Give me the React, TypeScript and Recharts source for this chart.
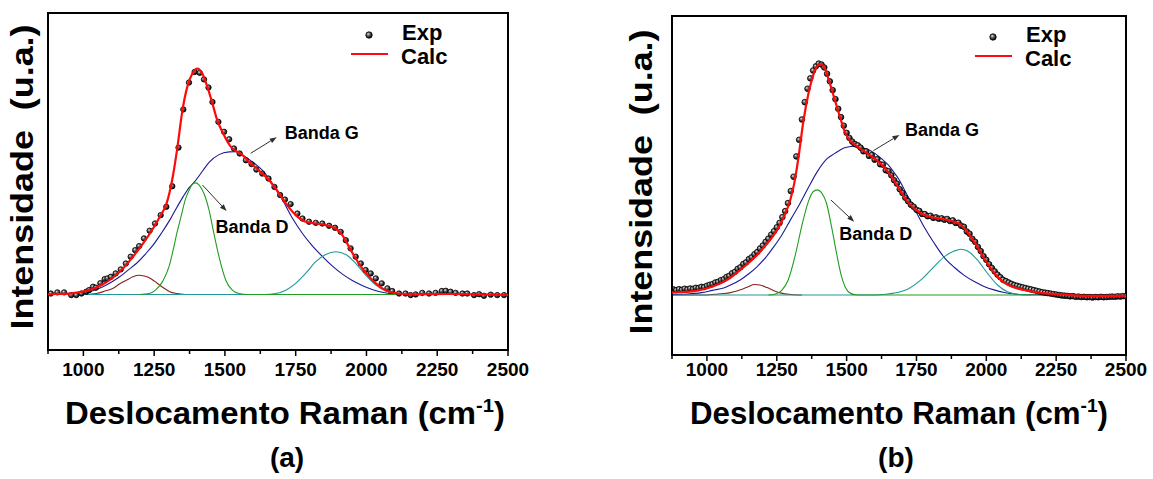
import React from "react";
import { ComposedChart, Line, Scatter, XAxis, YAxis, ReferenceLine, Legend } from "recharts";

const FONT = "'Liberation Sans', Arial, Helvetica, sans-serif";
const RED = "#ff0a0a";
const BLUE = "#1b1b96";
const GREEN = "#1f9e1f";
const TEAL = "#1f9999";
const BROWN = "#8c1f1f";
const ARROW = "#303030";

// Raman shift axis (cm-1): minor every 125, labels every 250
const xTicks = [875, 1000, 1125, 1250, 1375, 1500, 1625, 1750, 1875, 2000, 2125, 2250, 2375, 2500];

// ---------- panel (a) ----------
const aExpX = [885, 908, 932, 957, 975, 993, 1010, 1020, 1034, 1044, 1060, 1075, 1085, 1097, 1114, 1132, 1150, 1167, 1183, 1197,
  1214, 1234, 1253, 1273, 1293, 1314, 1336, 1353, 1373, 1393, 1411, 1426, 1442, 1456, 1477, 1497, 1515, 1532, 1552, 1574,
  1594, 1611, 1632, 1654, 1675, 1695, 1712, 1732, 1756, 1774, 1797, 1821, 1844, 1868, 1889, 1909, 1927, 1944, 1962, 1980,
  1997, 2015, 2033, 2054, 2074, 2091, 2115, 2138, 2156, 2174, 2197, 2221, 2244, 2266, 2280, 2297, 2315, 2339, 2356, 2380,
  2398, 2415, 2439, 2462, 2486];
const aExpY = [0.004, 0.009, 0.009, -0.003, -0.003, 0.004, 0.012, 0.019, 0.034, 0.03, 0.05, 0.068, 0.071, 0.078, 0.093, 0.111, 0.137, 0.167, 0.196, 0.214,
  0.248, 0.282, 0.314, 0.351, 0.388, 0.479, 0.65, 0.819, 0.938, 0.985, 0.981, 0.952, 0.916, 0.852, 0.764, 0.72, 0.687, 0.646, 0.624, 0.594,
  0.577, 0.553, 0.535, 0.513, 0.476, 0.44, 0.42, 0.4, 0.358, 0.336, 0.322, 0.317, 0.314, 0.304, 0.295, 0.277, 0.24, 0.204, 0.167, 0.137,
  0.108, 0.093, 0.071, 0.049, 0.027, 0.015, 0.004, 0.004, -0.003, 0, 0.007, 0.004, 0.007, 0.015, 0.016, 0.012, 0.007, 0.004, 0.004, -0.003,
  0.001, -0.006, -0.001, -0.003, -0.003];

const aCalcX = [875, 900, 950, 985, 1010, 1040, 1069, 1105, 1140, 1175, 1211, 1246, 1270, 1293, 1305, 1317, 1332, 1350, 1367, 1385,
  1403, 1420, 1438, 1456, 1473, 1491, 1509, 1526, 1544, 1562, 1585, 1609, 1632, 1656, 1679, 1715, 1750, 1785, 1821, 1856,
  1891, 1915, 1938, 1962, 1985, 2009, 2033, 2056, 2080, 2115, 2150, 2200, 2300, 2400, 2500];
const aCalcY = [0, 0.002, 0.004, 0.01, 0.016, 0.028, 0.045, 0.075, 0.115, 0.167, 0.226, 0.292, 0.344, 0.4, 0.455, 0.53, 0.65, 0.816, 0.919, 0.978,
  1.0, 0.978, 0.919, 0.845, 0.771, 0.72, 0.676, 0.646, 0.631, 0.617, 0.587, 0.562, 0.535, 0.506, 0.469, 0.403, 0.351, 0.322, 0.314, 0.307,
  0.292, 0.263, 0.211, 0.159, 0.115, 0.078, 0.049, 0.027, 0.012, 0.004, 0, 0.001, 0.002, 0, -0.002];

const aBlueX = [875, 950, 985, 1022, 1069, 1100, 1128, 1160, 1187, 1220, 1246, 1275, 1305, 1330, 1352, 1373, 1393, 1423, 1444, 1479,
  1515, 1538, 1562, 1597, 1632, 1668, 1691, 1703, 1738, 1774, 1809, 1847, 1880, 1915, 1950, 1985, 2020, 2056, 2100, 2150, 2500];
const aBlueY = [0, 0.001, 0.006, 0.012, 0.034, 0.055, 0.078, 0.11, 0.137, 0.18, 0.218, 0.27, 0.329, 0.385, 0.432, 0.472, 0.499, 0.55, 0.585, 0.619,
  0.631, 0.632, 0.617, 0.587, 0.55, 0.491, 0.447, 0.42, 0.338, 0.27, 0.215, 0.165, 0.125, 0.09, 0.062, 0.04, 0.022, 0.01, 0.002, 0, 0];

const aGreenX = [1200, 1232, 1255, 1281, 1303, 1317, 1330, 1346, 1360, 1373, 1385, 1397, 1409, 1426, 1444, 1461, 1479, 1503, 1526, 1550, 1580, 2500];
const aGreenY = [0, 0.004, 0.019, 0.06, 0.125, 0.196, 0.27, 0.35, 0.42, 0.46, 0.488, 0.494, 0.484, 0.447, 0.373, 0.27, 0.167, 0.063, 0.019, 0.004, 0, 0];

const aBrownX = [875, 1000, 1046, 1079, 1105, 1126, 1152, 1175, 1195, 1215, 1234, 1252, 1270, 1288, 1305, 1330, 1360];
const aBrownY = [0, 0, 0.004, 0.016, 0.027, 0.045, 0.063, 0.078, 0.085, 0.082, 0.073, 0.058, 0.041, 0.025, 0.012, 0.004, 0];

const aTealX = [875, 1640, 1679, 1715, 1750, 1785, 1821, 1856, 1891, 1927, 1962, 1997, 2033, 2068, 2103, 2140];
const aTealY = [0, 0, 0.004, 0.019, 0.049, 0.093, 0.145, 0.177, 0.189, 0.177, 0.137, 0.086, 0.041, 0.015, 0.003, 0];

// ---------- panel (b) ----------
const bExpX = [880, 890, 900, 910, 920, 930, 940, 950, 960, 970,
  980, 990, 1000, 1010, 1020, 1030, 1040, 1050, 1060, 1070,
  1080, 1090, 1100, 1110, 1120, 1130, 1140, 1150, 1160, 1170,
  1180, 1190, 1200, 1210, 1220, 1230, 1240, 1250, 1260, 1270,
  1280, 1290, 1300, 1310, 1320, 1330, 1340, 1350, 1360, 1370,
  1380, 1390, 1400, 1410, 1420, 1430, 1440, 1450, 1460, 1470,
  1480, 1490, 1500, 1510, 1520, 1530, 1540, 1550, 1560, 1570,
  1580, 1590, 1600, 1610, 1620, 1630, 1640, 1650, 1660, 1670,
  1680, 1690, 1700, 1710, 1720, 1730, 1740, 1750, 1760, 1770,
  1780, 1790, 1800, 1810, 1820, 1830, 1840, 1850, 1860, 1870,
  1880, 1890, 1900, 1910, 1920, 1930, 1940, 1950, 1960, 1970,
  1980, 1990, 2000, 2010, 2020, 2030, 2040, 2050, 2060, 2070,
  2080, 2090, 2100, 2110, 2120, 2130, 2140, 2150, 2160, 2170,
  2180, 2190, 2200, 2210, 2220, 2230, 2240, 2250, 2260, 2270,
  2280, 2290, 2300, 2310, 2320, 2330, 2340, 2350, 2360, 2370,
  2380, 2390, 2400, 2410, 2420, 2430, 2440, 2450, 2460, 2470,
  2480, 2490, 2500];
const bExpY = [0.024, 0.021, 0.025, 0.022, 0.027, 0.024, 0.028, 0.026, 0.031, 0.03,
  0.035, 0.034, 0.04, 0.044, 0.047, 0.054, 0.057, 0.064, 0.068, 0.078,
  0.083, 0.094, 0.1, 0.113, 0.12, 0.134, 0.141, 0.155, 0.163, 0.176,
  0.186, 0.201, 0.214, 0.23, 0.244, 0.261, 0.276, 0.293, 0.312, 0.337,
  0.363, 0.398, 0.45, 0.512, 0.6, 0.672, 0.76, 0.835, 0.893, 0.938,
  0.972, 0.99, 1.002, 0.998, 0.985, 0.958, 0.925, 0.887, 0.848, 0.806,
  0.77, 0.733, 0.702, 0.68, 0.664, 0.653, 0.648, 0.638, 0.622, 0.622,
  0.602, 0.606, 0.586, 0.588, 0.566, 0.564, 0.54, 0.536, 0.518, 0.497,
  0.482, 0.458, 0.442, 0.421, 0.406, 0.391, 0.382, 0.369, 0.364, 0.351,
  0.35, 0.341, 0.343, 0.334, 0.336, 0.33, 0.332, 0.326, 0.329, 0.32,
  0.323, 0.312, 0.313, 0.3, 0.295, 0.275, 0.265, 0.243, 0.23, 0.208,
  0.19, 0.168, 0.152, 0.133, 0.117, 0.102, 0.088, 0.077, 0.066, 0.06,
  0.054, 0.048, 0.043, 0.04, 0.036, 0.033, 0.03, 0.027, 0.024, 0.021,
  0.018, 0.015, 0.012, 0.01, 0.008, 0.006, 0.004, 0.002, 0, -0.002,
  -0.003, -0.004, -0.006, -0.005, -0.008, -0.007, -0.009, -0.008, -0.01, -0.009,
  -0.011, -0.009, -0.01, -0.008, -0.01, -0.009, -0.008, -0.007, -0.008, -0.006,
  -0.007, -0.005, -0.006];

const bCalcX = [875, 920, 960, 1000, 1030, 1060, 1090, 1119, 1150, 1179, 1210, 1239, 1260, 1280, 1298, 1312, 1327, 1345, 1363, 1380,
  1396, 1410, 1422, 1440, 1458, 1476, 1494, 1510, 1525, 1541, 1565, 1589, 1613, 1637, 1661, 1685, 1718, 1742, 1766, 1789,
  1825, 1861, 1885, 1909, 1927, 1944, 1968, 1992, 2016, 2040, 2064, 2099, 2147, 2207, 2266, 2326, 2386, 2445, 2500];
const bCalcY = [0.01, 0.013, 0.018, 0.029, 0.041, 0.057, 0.08, 0.108, 0.14, 0.172, 0.215, 0.259, 0.3, 0.35, 0.41, 0.48, 0.59, 0.75, 0.87, 0.95,
  0.993, 1.0, 0.981, 0.916, 0.844, 0.772, 0.705, 0.672, 0.655, 0.64, 0.621, 0.6, 0.578, 0.549, 0.512, 0.465, 0.404, 0.375, 0.354, 0.342,
  0.332, 0.325, 0.317, 0.303, 0.281, 0.253, 0.209, 0.159, 0.115, 0.079, 0.053, 0.033, 0.019, 0.007, 0.003, -0.003, -0.004, -0.004, -0.003];

const bBlueX = [875, 930, 981, 1020, 1060, 1090, 1119, 1150, 1179, 1210, 1239, 1270, 1298, 1330, 1358, 1394, 1430, 1458, 1490, 1515,
  1530, 1553, 1580, 1601, 1625, 1649, 1670, 1685, 1709, 1742, 1777, 1813, 1849, 1885, 1921, 1957, 1992, 2028, 2064, 2100, 2150, 2500];
const bBlueY = [0.002, 0.004, 0.01, 0.02, 0.03, 0.046, 0.065, 0.092, 0.122, 0.162, 0.208, 0.263, 0.323, 0.39, 0.453, 0.532, 0.59, 0.613, 0.636, 0.643,
  0.645, 0.639, 0.628, 0.613, 0.59, 0.563, 0.53, 0.505, 0.45, 0.375, 0.295, 0.225, 0.163, 0.12, 0.085, 0.058, 0.037, 0.022, 0.011, 0.004, 0.001, 0];

const bGreenX = [1220, 1243, 1267, 1291, 1315, 1339, 1363, 1380, 1396, 1410, 1428, 1446, 1464, 1482, 1506, 1530, 1560, 2500];
const bGreenY = [0, 0.003, 0.019, 0.065, 0.166, 0.296, 0.404, 0.447, 0.455, 0.443, 0.397, 0.296, 0.18, 0.079, 0.014, 0.001, 0, 0];

const bBrownX = [875, 1000, 1029, 1060, 1084, 1110, 1131, 1150, 1170, 1190, 1215, 1240, 1262, 1300, 1340];
const bBrownY = [0, 0, 0.003, 0.006, 0.01, 0.018, 0.027, 0.037, 0.045, 0.043, 0.032, 0.018, 0.009, 0.002, 0];

const bTealX = [875, 1600, 1640, 1670, 1718, 1766, 1813, 1849, 1885, 1909, 1933, 1968, 2004, 2040, 2076, 2123, 2160];
const bTealY = [0, 0, 0.003, 0.008, 0.025, 0.065, 0.123, 0.165, 0.19, 0.198, 0.19, 0.152, 0.094, 0.043, 0.014, 0.002, 0];

const pts = (xs: number[], ys: number[]) => xs.map((x, i) => ({ x, y: ys[i] }));

const panels = [
  {
    id: "a",
    left: 0,
    width: 560,
    margin: { top: 13, right: 52, bottom: 0, left: 0 },
    yAxisWidth: 48,
    xAxisHeight: 129,
    yDomain: [-0.246, 1.246],
    dotR: 2.7,
    tickDy: 26,
    titleCx: 285,
    titleLen: 440,
    capCx: 287,
    yTitleX: 33,
    yTitleCy: 177,
    legend: { left: 338, top: 14 },
    arrowG: [{ x: 1591, y: 0.625 }, { x: 1683, y: 0.696 }],
    textG: { x: 1711, y: 0.686 },
    arrowD: [{ x: 1421, y: 0.484 }, { x: 1506, y: 0.369 }],
    textD: { x: 1467, y: 0.271 },
    caption: "(a)",
    exp: pts(aExpX, aExpY),
    calc: pts(aCalcX, aCalcY),
    blue: pts(aBlueX, aBlueY),
    green: pts(aGreenX, aGreenY),
    brown: pts(aBrownX, aBrownY),
    teal: pts(aTealX, aTealY),
  },
  {
    id: "b",
    left: 600,
    width: 553,
    margin: { top: 16, right: 27, bottom: 0, left: 0 },
    yAxisWidth: 72,
    xAxisHeight: 124,
    yDomain: [-0.26, 1.208],
    dotR: 2.8,
    tickDy: 21,
    titleCx: 299,
    titleLen: 418,
    capCx: 296,
    yTitleX: 52,
    yTitleCy: 182,
    legend: { left: 362, top: 16 },
    arrowG: [{ x: 1596, y: 0.625 }, { x: 1689, y: 0.693 }],
    textG: { x: 1709, y: 0.688 },
    arrowD: [{ x: 1444, y: 0.411 }, { x: 1527, y: 0.317 }],
    textD: { x: 1474, y: 0.238 },
    caption: "(b)",
    exp: pts(bExpX, bExpY),
    calc: pts(bCalcX, bCalcY),
    blue: pts(bBlueX, bBlueY),
    green: pts(bGreenX, bGreenY),
    brown: pts(bBrownX, bBrownY),
    teal: pts(bTealX, bTealY),
  },
];

function XTick({ x, y, payload, dy }: any) {
  const v = payload.value;
  const major = v % 250 === 0;
  return (
    <g>
      <line x1={x} x2={x} y1={y} y2={y + (major ? 6 : 4)} stroke="#000" strokeWidth={1.5} />
      {major && (
        <text x={x} y={y + dy} textAnchor="middle" fontFamily={FONT} fontWeight="bold" fontSize={19} fill="#000">
          {v}
        </text>
      )}
    </g>
  );
}

function XTitle({ cfg }: any) {
  return (
    <g fontFamily={FONT} fontWeight="bold" fill="#000">
      <text x={cfg.titleCx} y={424} textAnchor="middle" fontSize={31} textLength={cfg.titleLen} lengthAdjust="spacingAndGlyphs">
        Deslocamento Raman (cm
        <tspan fontSize={19} dy={-12}>-1</tspan>
        <tspan dy={12}>)</tspan>
      </text>
      <text x={cfg.capCx} y={467} textAnchor="middle" fontSize={28}>
        {cfg.caption}
      </text>
    </g>
  );
}

function YTitle({ cfg }: any) {
  return (
    <text
      x={cfg.yTitleX}
      y={cfg.yTitleCy}
      transform={`rotate(-90 ${cfg.yTitleX} ${cfg.yTitleCy})`}
      textAnchor="middle"
      fontFamily={FONT}
      fontWeight="bold"
      fontSize={31}
      fill="#000"
      textLength={305}
      lengthAdjust="spacingAndGlyphs"
      style={{ whiteSpace: "pre" }}
    >
      {"Intensidade  (u.a.)"}
    </text>
  );
}

function Arrow({ x1, y1, x2, y2 }: any) {
  const a = Math.atan2(y2 - y1, x2 - x1);
  const L = 7;
  const W = 2.6;
  const bx = x2 - L * Math.cos(a);
  const by = y2 - L * Math.sin(a);
  const p = `${x2},${y2} ${bx + W * Math.sin(a)},${by - W * Math.cos(a)} ${bx - W * Math.sin(a)},${by + W * Math.cos(a)}`;
  return (
    <g>
      <line x1={x1} y1={y1} x2={bx} y2={by} stroke={ARROW} strokeWidth={1} />
      <polygon points={p} fill={ARROW} />
    </g>
  );
}

const annText = (label: string) => (p: any) => (
  <text x={p.x1} y={p.y1} fontFamily={FONT} fontWeight="bold" fontSize={18} fill="#000">
    {label}
  </text>
);

// closes the plot box: draws all four sides from the segment's end points
function FrameBox({ x1, y1, x2, y2, top }: any) {
  return <rect x={x1} y={top} width={x2 - x1} height={y1 - top} fill="none" stroke="#000" strokeWidth={2} />;
}

function Ball({ cx, cy, r, id }: any) {
  return <circle cx={cx} cy={cy} r={r} fill={`url(#ball-${id})`} stroke="#000" strokeWidth={0.8} />;
}

function BallGradient({ id }: { id: string }) {
  return (
    <radialGradient id={id} cx="38%" cy="35%" r="70%">
      <stop offset="0%" stopColor="#e6e6e6" />
      <stop offset="35%" stopColor="#6a6a6a" />
      <stop offset="80%" stopColor="#141414" />
      <stop offset="100%" stopColor="#000" />
    </radialGradient>
  );
}

function LegendBox({ id }: { id: string }) {
  return (
    <svg width={140} height={60} style={{ overflow: "visible" }}>
      <defs>
        <BallGradient id={`lball-${id}`} />
      </defs>
      <circle cx={31} cy={21} r={3.2} fill={`url(#lball-${id})`} stroke="#000" strokeWidth={0.8} />
      <text x={64} y={26} fontFamily={FONT} fontWeight="bold" fontSize={22} fill="#000">Exp</text>
      <line x1={13} x2={50} y1={40} y2={40} stroke={RED} strokeWidth={2} />
      <text x={63} y={50} fontFamily={FONT} fontWeight="bold" fontSize={22} fill="#000">Calc</text>
    </svg>
  );
}

function Panel({ cfg }: any) {
  const [yMin] = cfg.yDomain;
  const band = (data: any[], color: string, key: string) => (
    <Line key={key} data={data} dataKey="y" type="monotone" stroke={color} strokeWidth={1.1} dot={false}
      activeDot={false} isAnimationActive={false} legendType="none" />
  );
  return (
    <div style={{ position: "absolute", left: cfg.left, top: 0 }}>
      <ComposedChart width={cfg.width} height={479} margin={cfg.margin}>
        <defs>
          <BallGradient id={`ball-${cfg.id}`} />
        </defs>
        <XAxis
          type="number"
          dataKey="x"
          domain={[875, 2500]}
          ticks={xTicks}
          interval={0}
          allowDataOverflow
          height={cfg.xAxisHeight}
          tickSize={0}
          tickMargin={0}
          tickLine={false}
          axisLine={{ stroke: "#000", strokeWidth: 2 }}
          tick={<XTick dy={cfg.tickDy} />}
          label={<XTitle cfg={cfg} />}
        />
        <YAxis
          type="number"
          dataKey="y"
          domain={cfg.yDomain}
          allowDataOverflow
          width={cfg.yAxisWidth}
          tick={false}
          tickLine={false}
          axisLine={{ stroke: "#000", strokeWidth: 2 }}
          label={<YTitle cfg={cfg} />}
        />
        <ReferenceLine
          segment={[{ x: 875, y: yMin }, { x: 2500, y: yMin }]}
          ifOverflow="visible"
          shape={<FrameBox top={cfg.margin.top} />}
        />
        {band(cfg.brown, BROWN, "brown")}
        {band(cfg.blue, BLUE, "blue")}
        {band(cfg.teal, TEAL, "teal")}
        {band(cfg.green, GREEN, "green")}
        <Scatter data={cfg.exp} dataKey="y" zIndex={450} isAnimationActive={false}
          shape={(p: any) => <Ball cx={p.cx} cy={p.cy} r={cfg.dotR} id={cfg.id} />} />
        <Line data={cfg.calc} dataKey="y" type="monotone" stroke={RED} strokeWidth={2.2} dot={false}
          activeDot={false} zIndex={500} isAnimationActive={false} />
        <ReferenceLine segment={cfg.arrowG} shape={<Arrow />} />
        <ReferenceLine segment={[cfg.textG, cfg.textG]} shape={annText("Banda G")} />
        <ReferenceLine segment={cfg.arrowD} shape={<Arrow />} />
        <ReferenceLine segment={[cfg.textD, cfg.textD]} shape={annText("Banda D")} />
        <Legend
          layout="vertical"
          align="center"
          verticalAlign="middle"
          wrapperStyle={{ left: cfg.legend.left, top: cfg.legend.top, width: 140, height: 60 }}
          content={() => <LegendBox id={cfg.id} />}
        />
      </ComposedChart>
    </div>
  );
}

export default function App() {
  return (
    <div style={{ position: "absolute", left: 0, top: 0, width: 1153, height: 479, background: "#fff", overflow: "hidden" }}>
      {panels.map((cfg) => (
        <Panel key={cfg.id} cfg={cfg} />
      ))}
    </div>
  );
}
